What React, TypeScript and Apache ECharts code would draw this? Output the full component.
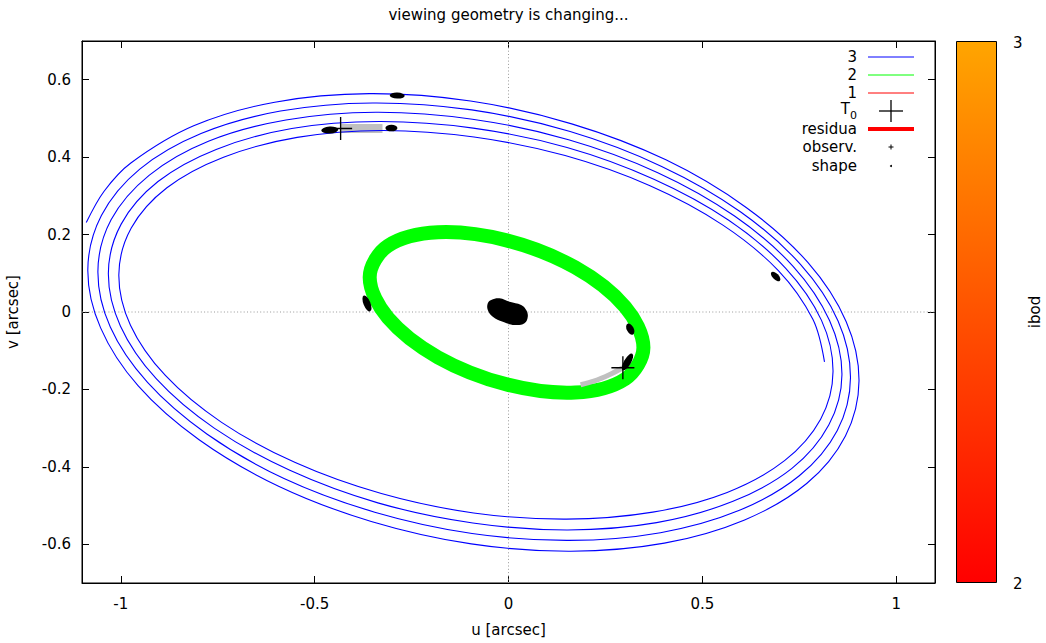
import React, { useEffect, useRef } from "react";
import * as echarts from "echarts";

// Projected orbit of body 3 (u, v in arcsec), traced over several revolutions
const orbit3: [number, number][] = [
  [-1.089, 0.231], [-1.043, 0.312],
  [-0.974, 0.385], [-0.812, 0.481], [-0.603, 0.542], [-0.359, 0.564], [-0.098, 0.545], [0.163, 0.486],
  [0.406, 0.393], [0.613, 0.27], [0.772, 0.128], [0.871, -0.025], [0.904, -0.178], [0.869, -0.32],
  [0.769, -0.443], [0.609, -0.537], [0.402, -0.597], [0.161, -0.618], [-0.096, -0.599], [-0.354, -0.541],
  [-0.593, -0.45], [-0.798, -0.33], [-0.955, -0.191], [-1.052, -0.041], [-1.085, 0.109],
  [-1.05, 0.249], [-0.951, 0.369], [-0.793, 0.461], [-0.588, 0.519], [-0.35, 0.54], [-0.095, 0.522],
  [0.159, 0.466], [0.395, 0.376], [0.598, 0.259], [0.753, 0.123], [0.85, -0.023], [0.882, -0.17],
  [0.848, -0.306], [0.75, -0.423], [0.594, -0.513], [0.392, -0.57], [0.157, -0.59], [-0.094, -0.572],
  [-0.345, -0.517], [-0.579, -0.43], [-0.778, -0.315], [-0.931, -0.182], [-1.027, -0.039], [-1.059, 0.105],
  [-1.025, 0.238], [-0.927, 0.353], [-0.774, 0.441], [-0.574, 0.496], [-0.342, 0.516], [-0.093, 0.498],
  [0.155, 0.445], [0.385, 0.36], [0.583, 0.248], [0.734, 0.118], [0.828, -0.022], [0.86, -0.162],
  [0.826, -0.292], [0.731, -0.404], [0.579, -0.489], [0.382, -0.544], [0.153, -0.563], [-0.092, -0.545],
  [-0.337, -0.493], [-0.564, -0.409], [-0.759, -0.3], [-0.908, -0.173], [-1.001, -0.036], [-1.032, 0.1],
  [-0.999, 0.227], [-0.904, 0.337], [-0.754, 0.42], [-0.559, 0.474], [-0.333, 0.492], [-0.091, 0.475],
  [0.151, 0.425], [0.375, 0.343], [0.568, 0.237], [0.715, 0.113], [0.807, -0.021], [0.837, -0.154],
  [0.805, -0.277], [0.712, -0.384], [0.564, -0.466], [0.372, -0.517], [0.149, -0.535], [-0.09, -0.519],
  [-0.328, -0.469], [-0.55, -0.389], [-0.74, -0.285], [-0.885, -0.164], [-0.975, -0.034], [-1.005, 0.096],
  [-0.973, 0.217], [-0.881, 0.321], [-0.735, 0.4], [-0.545, 0.451], [-0.325, 0.469], [-0.089, 0.452],
  [0.146, 0.404], [0.365, 0.326], [0.552, 0.225], [0.696, 0.107], [0.785, -0.019], [0.815, -0.129],
];

// Projected orbit of body 2 (closed loop)
const orbit2: [number, number][] = [
  [-0.358, 0.09], [-0.311, 0.171], [-0.182, 0.206], [-0.005, 0.185], [0.172, 0.115], [0.301, 0.013],
  [0.348, -0.092], [0.301, -0.173], [0.172, -0.208], [-0.005, -0.187], [-0.182, -0.117], [-0.311, -0.015],
];

// Outline of body 1 (shape model) around the origin
const shape1: [number, number][] = [
  [-0.0446, 0.0309], [-0.0232, 0.0353], [0.0026, 0.0265], [0.0327, 0.018], [0.0456, 0.0051],
  [0.0497, -0.0121], [0.0412, -0.0291], [0.0155, -0.0335], [-0.0147, -0.025], [-0.0405, -0.0121],
  [-0.0534, 0.0051], [-0.0534, 0.0224],
];

// Clusters of observations
const observed: [number, number][] = [
  [-0.287, 0.559], [-0.461, 0.47], [-0.302, 0.475], [0.689, 0.092],
  [-0.365, 0.022], [0.314, -0.044], [0.307, -0.129],
];

// Reference epoch T0 positions
const t0Marks: [number, number][] = [[-0.433, 0.474], [0.295, -0.144]];

// Residua (observed minus computed)
const residua3: [number, number][] = [[-0.433, 0.474], [-0.325, 0.474]];
const residua2: [number, number][] = [[0.186, -0.188], [0.222, -0.178], [0.26, -0.162], [0.295, -0.144]];

const xTicks = [-1, -0.5, 0, 0.5, 1];
const yTicks = [-0.6, -0.4, -0.2, 0, 0.2, 0.4, 0.6];
const cbTicks = ["3", "2"];
const legendNames = ["3", "2", "1", "T0", "residua", "observ.", "shape"];

// glyph footprint of each observation cluster: [length, width] in px and rotation in degrees
const obsGlyph: { size: [number, number]; rot: number }[] = [
  { size: [15, 6], rot: -2 },
  { size: [17, 7], rot: 3 },
  { size: [12, 6.5], rot: 0 },
  { size: [12, 6], rot: -45 },
  { size: [17, 7], rot: -68 },
  { size: [12, 7], rot: -63 },
  { size: [19, 7], rot: 60 },
];

const FONT = "DejaVu Sans";
const FS = 15;
const ELLIPSE = "path://M0,5A10,5,0,1,1,20,5A10,5,0,1,1,0,5Z";
const PLUS = "path://M11.3,0H12.7V11.3H24V12.7H12.7V24H11.3V12.7H0V11.3H11.3Z";
const SMOOTH = 0.34;

const G = { left: 82, top: 41, right: 935, bottom: 583 };

function txt(x: number, y: number, text: string, align: string, extra: any = {}) {
  return {
    type: "text",
    x,
    y,
    silent: true,
    ...extra,
    style: {
      text,
      fill: "#000",
      fontFamily: FONT,
      fontSize: FS,
      textAlign: align,
      align,
      textVerticalAlign: "middle",
      verticalAlign: "middle",
    },
  };
}

function seg(x1: number, y1: number, x2: number, y2: number, color: string, width: number) {
  return {
    type: "line",
    silent: true,
    shape: { x1, y1, x2, y2 },
    style: { stroke: color, lineWidth: width },
  };
}

function buildLegend() {
  const rows = [57, 75, 93, 111, 129, 147, 166];
  const tx = 857;
  const s0 = 868;
  const s1 = 914;
  const sc = 891;
  const els: any[] = [];
  legendNames.forEach((name, i) => {
    if (name === "T0") {
      // T with a lowered 0
      els.push({
        type: "text",
        x: tx,
        y: rows[i] - 10,
        silent: true,
        style: {
          text: "{t|T}{s|0}",
          fill: "#000",
          fontFamily: FONT,
          textAlign: "right",
          align: "right",
          textVerticalAlign: "top",
          verticalAlign: "top",
          rich: {
            t: { fontSize: FS, fontFamily: FONT, lineHeight: 16, verticalAlign: "top" },
            s: { fontSize: 11, fontFamily: FONT, lineHeight: 20, verticalAlign: "bottom" },
          },
        },
      });
    } else {
      els.push(txt(tx, rows[i], name, "right"));
    }
  });
  els.push(seg(s0, rows[0], s1, rows[0], "#0000ff", 1));
  els.push(seg(s0, rows[1], s1, rows[1], "#00ff00", 1));
  els.push(seg(s0, rows[2], s1, rows[2], "#ff0000", 1));
  els.push(seg(sc - 12, rows[3], sc + 12, rows[3], "#000", 1.3));
  els.push(seg(sc, rows[3] - 11, sc, rows[3] + 11, "#000", 1.3));
  els.push(seg(s0, rows[4], s1, rows[4], "#ff0000", 4));
  els.push(seg(sc - 2.5, rows[5], sc + 2.5, rows[5], "#000", 1));
  els.push(seg(sc, rows[5] - 2.5, sc, rows[5] + 2.5, "#000", 1));
  els.push({ type: "circle", silent: true, shape: { cx: sc, cy: rows[6], r: 1 }, style: { fill: "#000" } });
  return els;
}

function curve(points: [number, number][], closed: boolean, style: any, z: number, name: string) {
  return {
    name,
    type: "custom",
    data: [[0, 0]],
    silent: true,
    z,
    renderItem: (_p: any, api: any) => ({
      type: closed ? "polygon" : "polyline",
      shape: { points: points.map((p) => api.coord(p)), smooth: SMOOTH },
      style: { fill: "none", ...style },
    }),
  };
}

function buildOption(): any {
  const axisBase = {
    type: "value",
    splitLine: { show: false },
    axisLine: { show: true, onZero: false, lineStyle: { color: "#000", width: 1 } },
  };
  const tick = (vals: number[]) => ({
    show: true,
    inside: true,
    length: 7,
    customValues: vals,
    lineStyle: { color: "#000", width: 1 },
  });
  const label = (vals: number[], margin: number) => ({
    customValues: vals,
    margin,
    color: "#000",
    fontFamily: FONT,
    fontSize: FS,
  });

  const graphic: any[] = [
    txt((G.left + G.right) / 2, 15, "viewing geometry is changing...", "center"),
    txt((G.left + G.right) / 2, 630, "u [arcsec]", "center"),
    txt(13, (G.top + G.bottom) / 2, "v [arcsec]", "center", { rotation: Math.PI / 2 }),
    {
      type: "rect",
      silent: true,
      shape: { x: 956.5, y: 41.5, width: 40, height: 541 },
      style: {
        fill: new echarts.graphic.LinearGradient(0, 0, 0, 1, [
          { offset: 0, color: "#ffa500" },
          { offset: 1, color: "#ff0000" },
        ]),
        stroke: "#000",
        lineWidth: 1,
      },
    },
    txt(1013, 43, cbTicks[0], "left"),
    txt(1013, 584, cbTicks[1], "left"),
    txt(1035, (G.top + G.bottom) / 2, "ibod", "center", { rotation: Math.PI / 2 }),
    ...buildLegend(),
  ];

  return {
    animation: false,
    backgroundColor: "#fff",
    grid: {
      left: G.left,
      top: G.top,
      right: 1046 - G.right,
      bottom: 643 - G.bottom,
      show: true,
      borderColor: "#000",
      borderWidth: 1,
    },
    xAxis: [
      { ...axisBase, min: -1.1, max: 1.1, position: "bottom", axisTick: tick(xTicks), axisLabel: label(xTicks, 13) },
      { ...axisBase, min: -1.1, max: 1.1, position: "top", axisTick: tick(xTicks), axisLabel: { show: false, customValues: xTicks } },
    ],
    yAxis: [
      { ...axisBase, min: -0.7, max: 0.7, position: "left", axisTick: tick(yTicks), axisLabel: label(yTicks, 11) },
      { ...axisBase, min: -0.7, max: 0.7, position: "right", axisTick: tick(yTicks), axisLabel: { show: false, customValues: yTicks } },
    ],
    graphic,
    series: [
      {
        name: "zero-u",
        type: "line",
        data: [[0, -0.7], [0, 0.7]],
        showSymbol: false,
        silent: true,
        z: 1,
        lineStyle: { color: "#999", width: 1, type: [1, 2.3] },
      },
      {
        name: "zero-v",
        type: "line",
        data: [[-1.1, 0], [1.1, 0]],
        showSymbol: false,
        silent: true,
        z: 1,
        lineStyle: { color: "#999", width: 1, type: [1, 2.3] },
      },
      {
        name: "residua-3",
        type: "line",
        data: residua3,
        showSymbol: false,
        silent: true,
        z: 2,
        lineStyle: { color: "#c0c0c0", width: 9, cap: "butt" },
      },
      curve(orbit3, false, { stroke: "#0000ff", lineWidth: 1.1 }, 3, "3"),
      curve(orbit2, true, { stroke: "#00ff00", lineWidth: 14 }, 4, "2"),
      curve(residua2, false, { stroke: "#c0c0c0", lineWidth: 5 }, 5, "residua-2"),
      {
        name: "shape",
        type: "custom",
        data: [[0, 0]],
        silent: true,
        z: 6,
        renderItem: (_p: any, api: any) => ({
          type: "polygon",
          shape: { points: shape1.map((p) => api.coord(p)), smooth: 0.4 },
          style: { fill: "#000" },
        }),
      },
      {
        name: "observ.",
        type: "scatter",
        silent: true,
        z: 7,
        symbol: ELLIPSE,
        itemStyle: { color: "#000", opacity: 1 },
        data: observed.map((p, i) => ({
          value: p,
          symbolSize: obsGlyph[i].size,
          symbolRotate: obsGlyph[i].rot,
        })),
      },
      {
        name: "T0",
        type: "scatter",
        silent: true,
        z: 8,
        symbol: PLUS,
        symbolSize: 23,
        itemStyle: { color: "#000", opacity: 1 },
        data: t0Marks,
      },
    ],
  };
}

export default function App() {
  const ref = useRef<HTMLDivElement>(null);
  useEffect(() => {
    if (!ref.current) return;
    const chart = echarts.init(ref.current, null, { renderer: "svg" });
    chart.setOption(buildOption());
    return () => chart.dispose();
  }, []);
  return (
    <div
      ref={ref}
      style={{ position: "fixed", left: 0, top: 0, width: 1046, height: 643, background: "#fff" }}
    />
  );
}
